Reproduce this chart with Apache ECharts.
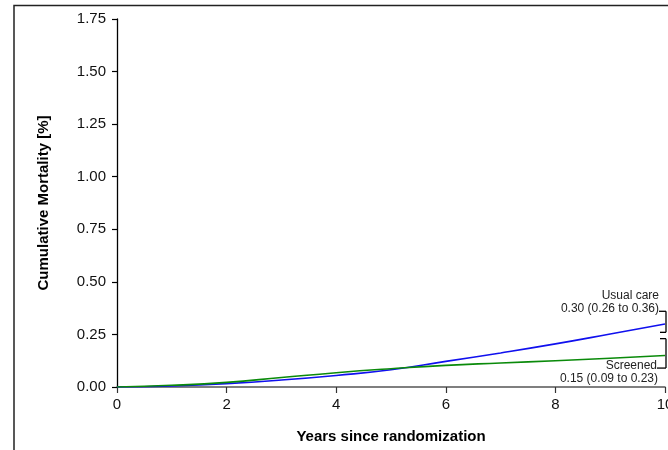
<!DOCTYPE html>
<html>
<head>
<meta charset="utf-8">
<script src="https://cdn.jsdelivr.net/npm/echarts@6/dist/echarts.min.js"></script>
<style>
  html, body { margin: 0; padding: 0; background: #fff; }
  #chart { width: 668px; height: 450px; }
</style>
</head>
<body>
<div id="chart"></div>
<script>
// years since randomization
const years = [0, 1, 2, 3, 4, 5, 6, 7, 8, 9, 10]
// cumulative mortality [%]
const usualCare = [0, 0.005, 0.016, 0.033, 0.055, 0.082, 0.122, 0.162, 0.205, 0.252, 0.300]
const screened = [0, 0.008, 0.022, 0.045, 0.068, 0.087, 0.103, 0.114, 0.125, 0.137, 0.150]

// end-of-follow-up estimates with 95% CI
const groupNames = ['Usual care', 'Screened']
const endEstimate = [0.30, 0.15]
const ciLower = [0.26, 0.09]
const ciUpper = [0.36, 0.23]
const endYear = 10

const FONT = '"Liberation Sans", Arial, sans-serif'

const chart = echarts.init(document.getElementById('chart'), null, { renderer: 'canvas' })

function bracket(params, api) {
  const idx = params.dataIndex
  const top = api.coord([api.value(0), api.value(2)])
  const bot = api.coord([api.value(0), api.value(1)])
  const bx = top[0] + 1
  const ls = { stroke: '#000', lineWidth: 1.3 }
  const ts = { fontSize: 12, fontFamily: FONT, fill: '#222', align: 'right', verticalAlign: 'middle' }
  const est = endEstimate[idx].toFixed(2) + ' (' + ciLower[idx].toFixed(2) + ' to ' + ciUpper[idx].toFixed(2) + ')'
  const children = [
    { type: 'line', shape: { x1: bx, y1: top[1], x2: bx, y2: bot[1] }, style: ls }
  ]
  if (idx === 0) {
    children.push(
      { type: 'line', shape: { x1: bx - 7, y1: top[1], x2: bx, y2: top[1] }, style: ls },
      { type: 'line', shape: { x1: bx - 6, y1: bot[1], x2: bx, y2: bot[1] }, style: ls },
      { type: 'text', style: Object.assign({ text: est, x: bx - 7, y: top[1] - 3 }, ts) },
      { type: 'text', style: Object.assign({ text: groupNames[idx], x: bx - 7, y: top[1] - 16 }, ts) }
    )
  } else {
    children.push(
      { type: 'line', shape: { x1: bx - 6, y1: top[1], x2: bx, y2: top[1] }, style: ls },
      { type: 'line', shape: { x1: bx - 9, y1: bot[1], x2: bx, y2: bot[1] }, style: ls },
      { type: 'text', style: Object.assign({ text: groupNames[idx], x: bx - 9, y: bot[1] - 2 }, ts) },
      { type: 'text', style: Object.assign({ text: est, x: bx - 8, y: bot[1] + 11 }, ts) }
    )
  }
  return { type: 'group', children: children }
}

chart.setOption({
  animation: false,
  backgroundColor: '#fff',
  grid: { left: 117, right: 3, top: 19, bottom: 63, containLabel: false, outerBoundsMode: 'none' },
  graphic: [
    {
      type: 'polyline',
      shape: { points: [[14, 450], [14, 5.5], [668, 5.5]] },
      style: { stroke: '#222', lineWidth: 1.5, fill: null }
    }
  ],
  xAxis: {
    type: 'value',
    min: 0,
    max: 10,
    interval: 2,
    name: 'Years since randomization',
    nameLocation: 'middle',
    nameGap: 42,
    nameTextStyle: { fontSize: 15, fontWeight: 'bold', fontFamily: FONT, color: '#000' },
    axisLine: { show: true, onZero: false, lineStyle: { color: '#555', width: 1.5 } },
    axisTick: { show: true, length: 6, lineStyle: { color: '#333', width: 1.2 } },
    axisLabel: { fontSize: 15, fontFamily: FONT, color: '#111', margin: 10, showMaxLabel: true },
    splitLine: { show: false }
  },
  yAxis: {
    type: 'value',
    min: 0,
    max: 1.75,
    interval: 0.25,
    name: 'Cumulative Mortality [%]',
    nameLocation: 'middle',
    nameGap: 66,
    nameTextStyle: { fontSize: 15, fontWeight: 'bold', fontFamily: FONT, color: '#000' },
    axisLine: { show: true, lineStyle: { color: '#000', width: 1.3 } },
    axisTick: { show: true, length: 5, lineStyle: { color: '#000', width: 1.2 } },
    axisLabel: { fontSize: 15, fontFamily: FONT, color: '#111', margin: 11, formatter: v => v.toFixed(2) },
    splitLine: { show: false }
  },
  series: [
    {
      name: 'Usual care',
      type: 'line',
      smooth: true,
      showSymbol: false,
      data: years.map((y, i) => [y, usualCare[i]]),
      lineStyle: { color: '#1010ee', width: 1.6 },
      itemStyle: { color: '#1010ee' },
      z: 3
    },
    {
      name: 'Screened',
      type: 'line',
      smooth: true,
      showSymbol: false,
      data: years.map((y, i) => [y, screened[i]]),
      lineStyle: { color: '#0a8a0a', width: 1.6 },
      itemStyle: { color: '#0a8a0a' },
      z: 4
    },
    {
      name: 'CI brackets',
      type: 'custom',
      clip: false,
      silent: true,
      renderItem: bracket,
      data: groupNames.map((g, i) => [endYear, ciLower[i], ciUpper[i]]),
      z: 5
    }
  ]
})
</script>
</body>
</html>
